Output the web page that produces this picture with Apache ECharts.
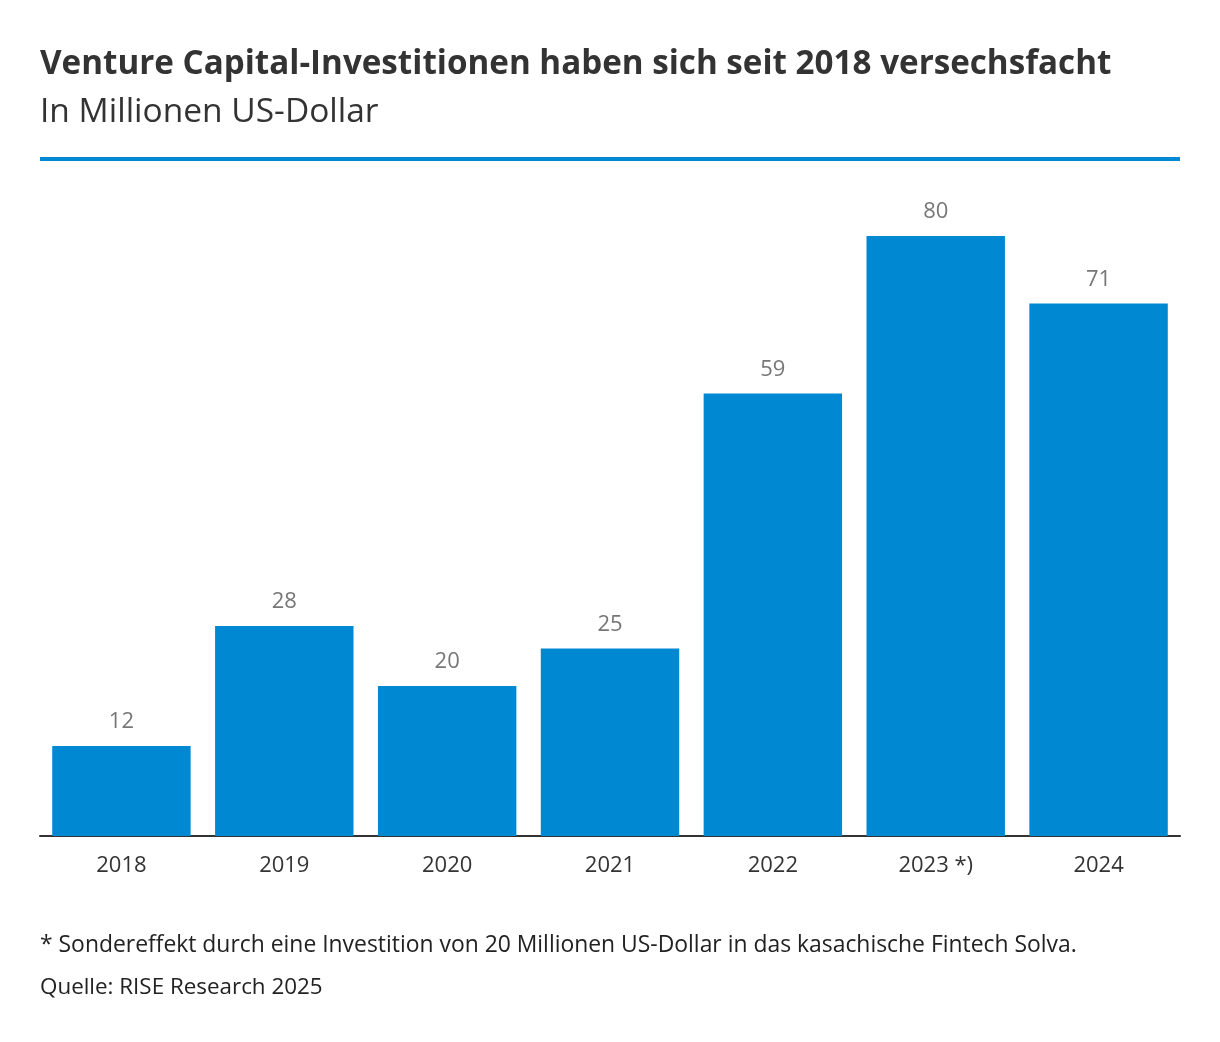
<!DOCTYPE html>
<html><head><meta charset="utf-8">
<script src="https://cdn.jsdelivr.net/npm/echarts@6/dist/echarts.min.js"></script>
<style>html,body{margin:0;padding:0;background:#fff}#c{width:1220px;height:1042px}</style>
</head><body><div id="c"></div>
<script>
const categories = ['2018','2019','2020','2021','2022','2023 *)','2024'];
const values = [12, 28, 20, 25, 59, 80, 71];
const titleText = 'Venture Capital-Investitionen haben sich seit 2018 versechsfacht';
const subtitleText = 'In Millionen US-Dollar';
const footnote = '* Sondereffekt durch eine Investition von 20 Millionen US-Dollar in das kasachische Fintech Solva.';
const source = 'Quelle: RISE Research 2025';

const font = '"Open Sans", "Noto Sans", sans-serif';
const chart = echarts.init(document.getElementById('c'));
chart.setOption({
  animation: false,
  backgroundColor: '#fff',
  graphic: [
    {type:'text', left:40, top:48, style:{text:titleText, font:'bold 33.2px ' + font, fill:'#333'}},
    {type:'text', left:40, top:95, style:{text:subtitleText, font:'33.5px ' + font, fill:'#333'}},
    {type:'rect', left:40, top:157, shape:{width:1140, height:4}, style:{fill:'#0089d2'}},
    {type:'text', left:40, top:934, style:{text:footnote, font:'22.9px ' + font, fill:'#222'}},
    {type:'text', left:40, top:977, style:{text:source, font:'22.4px ' + font, fill:'#222'}}
  ],
  grid: {left:40, right:40, top:236, bottom:206, containLabel:false},
  xAxis: {
    type:'category', data:categories,
    axisLine:{lineStyle:{color:'#333', width:2}},
    axisTick:{show:false},
    axisLabel:{color:'#333', fontSize:22, fontFamily:font, margin:19}
  },
  yAxis: {type:'value', min:0, max:80, show:false, splitLine:{show:false}},
  series: [{
    type:'bar', data:values, barCategoryGap:'15%',
    itemStyle:{color:'#0089d2'},
    label:{show:true, position:'top', distance:13, color:'#777', fontSize:22, fontFamily:font}
  }]
});
</script></body></html>
